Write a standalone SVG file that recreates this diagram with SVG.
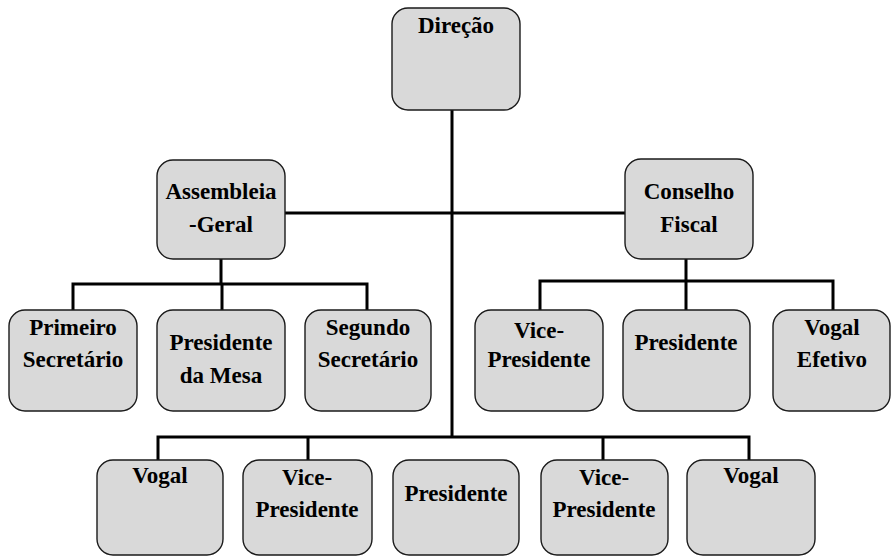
<svg xmlns="http://www.w3.org/2000/svg" width="891" height="557" viewBox="0 0 891 557">
<style>
.box{fill:#d9d9d9;stroke:#1a1a1a;stroke-width:1.4}
text{font-family:'Liberation Serif','Times New Roman','DejaVu Serif',serif;font-weight:700;font-size:23px;fill:#000;text-anchor:middle}
.c{fill:none;stroke:#000;stroke-width:3}
</style>
<rect width="891" height="557" fill="#fff"/>
<g id="connectors">
<path class="c" d="M452 110V437"/>
<path class="c" d="M284 213H626"/>
<path class="c" d="M221 259V284M73 310V284H367V310M222 284V310"/>
<path class="c" d="M686 259V281M540 310V281H833V310M686 281V310"/>
<path class="c" d="M158 460V437H749V460M308 437V460M603 437V460"/>
</g>
<g id="n-direcao"><rect class="box" x="392" y="8" width="128" height="102" rx="16"/><text x="456" y="33">Direção</text></g>
<g id="n-assembleia"><rect class="box" x="157" y="160" width="128" height="99" rx="16"/><text x="221" y="199">Assembleia</text><text x="221" y="232">-Geral</text></g>
<g id="n-conselho"><rect class="box" x="625" y="159" width="128" height="100" rx="16"/><text x="689" y="199">Conselho</text><text x="689" y="232">Fiscal</text></g>
<g id="n-primeiro"><rect class="box" x="9" y="310" width="128" height="101" rx="16"/><text x="73" y="335">Primeiro</text><text x="73" y="367">Secretário</text></g>
<g id="n-presmesa"><rect class="box" x="157" y="310" width="128" height="101" rx="16"/><text x="221" y="350">Presidente</text><text x="221" y="383">da Mesa</text></g>
<g id="n-segundo"><rect class="box" x="305" y="310" width="126" height="101" rx="16"/><text x="368" y="335">Segundo</text><text x="368" y="367">Secretário</text></g>
<g id="n-cf-vice"><rect class="box" x="475" y="310" width="128" height="101" rx="16"/><text x="539" y="338">Vice-</text><text x="539" y="367">Presidente</text></g>
<g id="n-cf-pres"><rect class="box" x="623" y="310" width="127" height="101" rx="16"/><text x="686" y="350">Presidente</text></g>
<g id="n-cf-vogal"><rect class="box" x="773" y="310" width="117" height="101" rx="16"/><text x="832" y="335">Vogal</text><text x="832" y="367">Efetivo</text></g>
<g id="n-vogal1"><rect class="box" x="97" y="460" width="126" height="95" rx="16"/><text x="160" y="483">Vogal</text></g>
<g id="n-vice1"><rect class="box" x="243" y="460" width="129" height="95" rx="16"/><text x="307" y="485">Vice-</text><text x="307" y="517">Presidente</text></g>
<g id="n-pres"><rect class="box" x="393" y="460" width="126" height="95" rx="16"/><text x="456" y="501">Presidente</text></g>
<g id="n-vice2"><rect class="box" x="541" y="460" width="127" height="95" rx="16"/><text x="604" y="485">Vice-</text><text x="604" y="517">Presidente</text></g>
<g id="n-vogal2"><rect class="box" x="687" y="460" width="128" height="95" rx="16"/><text x="751" y="483">Vogal</text></g>
</svg>
